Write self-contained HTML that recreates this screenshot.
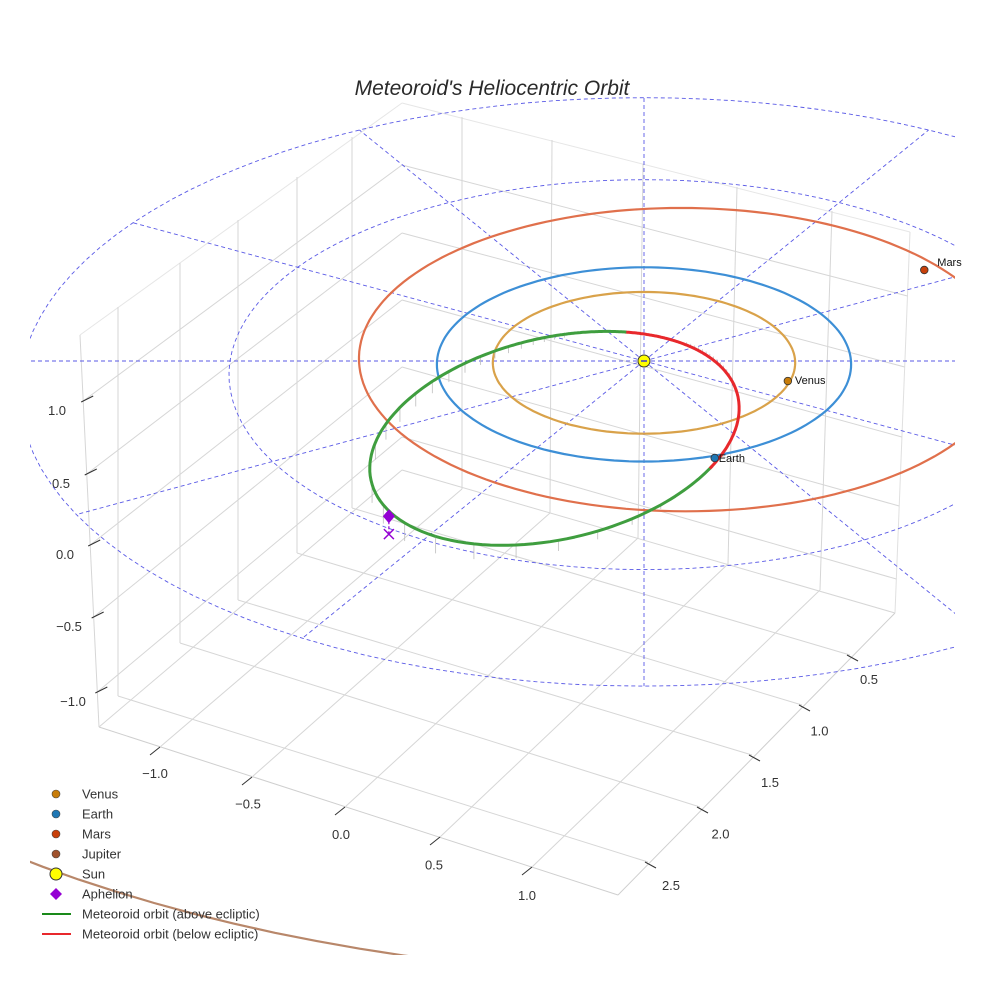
<!DOCTYPE html>
<html><head><meta charset="utf-8">
<style>
html,body{margin:0;padding:0;background:#fff;}
svg{display:block;font-family:"Liberation Sans",Arial,sans-serif;}
</style></head>
<body>
<svg id="chart" width="984" height="984" viewBox="0 0 984 984" xmlns="http://www.w3.org/2000/svg">
<defs><clipPath id="sceneClip"><rect x="30" y="0" width="925" height="955"/></clipPath></defs>
<rect x="0" y="0" width="984" height="984" fill="#fff"/>
<text x="492" y="95" text-anchor="middle" font-size="21" font-style="italic" fill="#2a2a2a">Meteoroid's Heliocentric Orbit</text>
<g id="grid" stroke="#d6d6d6" stroke-width="1" fill="none"></g>
<g id="ticks"></g>
<g id="scene" clip-path="url(#sceneClip)"></g>
<g id="labels"></g>
<g id="legend"></g>
</svg>
<script>
// ---- data ----
const planetNames = ["Venus", "Earth", "Mars"];
const planetX = [0.69, 0.33, 1.40];
const planetY = [-0.205, -0.966, 0.97];
const planetColors = ["#c87d0a", "#1f77b4", "#c8400a"];
const orbitNames = ["Venus", "Earth", "Mars", "Jupiter"];
const orbitRadius = [0.73, 1.0, 1.57, 5.2];
const orbitCenterX = [0.0, 0.0, 0.19, 0.3];
const orbitCenterY = [0.0, 0.0, 0.10, 0.0];
const orbitColors = ["#d9a24a", "#3d8fd6", "#e0704c", "#b8876a"];
const ringRadii = [1, 2, 3];
const spokeAngles = [0, 30, 60, 90, 120, 150, 180, 210, 240, 270, 300, 330];
const meteorA = [1.18];
const meteorE = [0.765];
const meteorIncl = [4.5];
const meteorNode = [107];
const meteorPeri = [-44];
const aphelionXYZ = [-1.16, -1.68, 0.12];
const xTickLabels = ["\u22121.0", "\u22120.5", "0.0", "0.5", "1.0"];
const yTickLabels = ["0.5", "1.0", "1.5", "2.0", "2.5"];
const zTickLabels = ["1.0", "0.5", "0.0", "\u22120.5", "\u22121.0"];

const NS = "http://www.w3.org/2000/svg";
function mk(tag, attrs, parent) {
  const e = document.createElementNS(NS, tag);
  for (const k in attrs) e.setAttribute(k, attrs[k]);
  parent.appendChild(e);
  return e;
}
function proj(X, Y, Z) {
  const s = 1 / (1 + 0.035 * Y);
  return [644 + 207 * X * s, 361 - 97 * Y * s - 140 * Z * s];
}
function pts(arr) { return arr.map(p => p[0].toFixed(1) + "," + p[1].toFixed(1)).join(" "); }

// ---- box grid ----
const grid = document.getElementById("grid");
const L = [99, 727], B = [402, 470], R = [895, 613], F = [618, 895];
const LT = [80, 335], BT = [402, 103], RT = [910, 232];
function line(a, b, parent, col) {
  const el = mk("line", {x1: a[0], y1: a[1], x2: b[0], y2: b[1]}, parent);
  if (col) el.setAttribute("stroke", col);
  
  
  return el;
}
line(L, B, grid); line(B, R, grid); line(L, F, grid, "#cfcfcf"); line(F, R, grid, "#cfcfcf");
line(LT, BT, grid, "#e6e6e6"); line(BT, RT, grid, "#e6e6e6");
line(LT, L, grid); line(RT, R, grid, "#e0e0e0");
const xFloorA = [[160,747],[252,777],[345,807],[440,837],[532,867]];
const xFloorB = [[462,489],[550,513],[638,538],[728,564],[820,590]];
const xWallTop = [[462,117],[552,140],[643,164],[737,187],[832,211]];
for (let i = 0; i < 5; i++) { line(xFloorA[i], xFloorB[i], grid); line(xFloorB[i], xWallTop[i], grid); }
const yFloorA = [[850,655],[802,705],[752,755],[700,807],[648,862]];
const yFloorB = [[352,508],[297,553],[238,600],[180,643],[118,696]];
const yWallTop = [[352,137],[297,177],[238,220],[180,263],[118,307]];
for (let i = 0; i < 5; i++) { line(yFloorA[i], yFloorB[i], grid); line(yFloorB[i], yWallTop[i], grid); }
const zCorner = [165, 233, 300, 367, 437];
const zLeft = [401, 474, 545, 617, 692];
const zRight = [296, 367, 437, 506, 579];
for (let i = 0; i < 5; i++) { line([402, zCorner[i]], [80 + (99-80)*(zLeft[i]-335)/392, zLeft[i]], grid); line([402, zCorner[i]], [910 - 15*(zRight[i]-232)/381, zRight[i]], grid); }

// ---- ticks ----
const ticks = document.getElementById("ticks");
function tickLbl(txt, x, y, name) {
  const t = mk("text", {x: x, y: y, "font-size": 13, fill: "#333", "text-anchor": "middle"}, ticks);
  t.textContent = txt;
  
  
}
for (let i = 0; i < 5; i++) {
  const a = xFloorA[i];
  line([a[0]-10, a[1]+8], [a[0], a[1]], ticks, "#333");
  tickLbl(xTickLabels[i], 155 + i*93, 778 + i*30.5, "x-tick-label");
  const b = yFloorA[i];
  line([b[0]+8, b[1]+6], [b[0]-3, b[1]], ticks, "#333");
  tickLbl(yTickLabels[i], 869 - i*49.5, 684 + i*51.5, "y-tick-label");
  const zy = zLeft[i], zx = 80 + 19*(zy-335)/392;
  line([zx-2, zy+1], [zx+10, zy-5], ticks, "#333");
  tickLbl(zTickLabels[i], 57 + i*4, zy + 14, "z-tick-label");
}

// ---- scene ----
const scene = document.getElementById("scene");
ringRadii.forEach(r => {
  const p = [];
  for (let a = 0; a <= 360; a += 3) { const t = a*Math.PI/180; p.push(proj(r*Math.cos(t), r*Math.sin(t), 0)); }
  const el = mk("polyline", {points: pts(p), fill: "none", stroke: "#5a5ae6", "stroke-width": 0.9, "stroke-dasharray": "4,3"}, scene);
  
  
});
spokeAngles.forEach(a => {
  const t = a*Math.PI/180, r = ringRadii[ringRadii.length-1];
  const p0 = proj(0,0,0), p1 = proj(r*Math.cos(t), r*Math.sin(t), 0);
  const el = mk("line", {x1: p0[0], y1: p0[1], x2: p1[0], y2: p1[1], stroke: "#5a5ae6", "stroke-width": 0.9, "stroke-dasharray": "4,3"}, scene);
  
  
});
for (let i = 0; i < orbitNames.length; i++) {
  const p = [];
  const big = orbitRadius[i] > 4;
  const a0 = big ? 200 : 0, a1 = big ? 300 : 360;
  for (let a = a0; a <= a1; a += 2) { const t = a*Math.PI/180; p.push(proj(orbitCenterX[i] + orbitRadius[i]*Math.cos(t), orbitCenterY[i] + orbitRadius[i]*Math.sin(t), 0)); }
  const el = mk("polyline", {points: pts(p), fill: "none", stroke: orbitColors[i], "stroke-width": 2.2}, scene);
  
  
}
const a = meteorA[0], e = meteorE[0], inc = meteorIncl[0]*Math.PI/180, Om = meteorNode[0]*Math.PI/180, w = meteorPeri[0]*Math.PI/180;
const pLat = a*(1-e*e);
function mpos(nuDeg) {
  const nu = nuDeg*Math.PI/180, r = pLat/(1+e*Math.cos(nu)), u = w + nu;
  return [r*(Math.cos(Om)*Math.cos(u) - Math.sin(Om)*Math.sin(u)*Math.cos(inc)),
          r*(Math.sin(Om)*Math.cos(u) + Math.cos(Om)*Math.sin(u)*Math.cos(inc)),
          r*Math.sin(u)*Math.sin(inc)];
}
const stems = mk("g", {stroke: "#bdbdbd", "stroke-width": 0.8}, scene);


for (let nu = -180; nu < 180; nu += 5) {
  const q = mpos(nu);
  if (Math.abs(q[2]) < 0.02) continue;
  const s1 = proj(q[0], q[1], q[2]), s0 = proj(q[0], q[1], 0);
  const el = mk("line", {x1: s1[0], y1: s1[1], x2: s0[0], y2: s0[1]}, stems);
  
  
}
let segs = [], cur = null, curSign = null;
for (let nu = -180; nu <= 180; nu += 1) {
  const q = mpos(nu), sg = q[2] >= 0;
  const sp = proj(q[0], q[1], q[2]);
  if (curSign === null || sg !== curSign) { if (cur) { cur.p.push(sp); segs.push(cur); } cur = {up: sg, p: cur ? [cur.p[cur.p.length-2], sp] : [sp]}; curSign = sg; }
  else cur.p.push(sp);
}
segs.push(cur);
segs.forEach(sg => {
  const el = mk("polyline", {points: pts(sg.p), fill: "none", stroke: sg.up ? "#3f9e3f" : "#e8282c", "stroke-width": 3, "stroke-linejoin": "round"}, scene);
  
  
});
const apS = proj(aphelionXYZ[0], aphelionXYZ[1], aphelionXYZ[2]), apG = proj(aphelionXYZ[0], aphelionXYZ[1], 0);
let el = mk("line", {x1: apS[0], y1: apS[1], x2: apG[0], y2: apG[1], stroke: "#9400d3", "stroke-width": 1.2, "stroke-dasharray": "3,2"}, scene);


el = mk("path", {d: `M${apG[0]-5},${apG[1]-5}L${apG[0]+5},${apG[1]+5}M${apG[0]+5},${apG[1]-5}L${apG[0]-5},${apG[1]+5}`, stroke: "#9400d3", "stroke-width": 1.5, fill: "none"}, scene);


el = mk("path", {d: `M${apS[0]},${apS[1]-7}L${apS[0]+6},${apS[1]}L${apS[0]},${apS[1]+7}L${apS[0]-6},${apS[1]}Z`, fill: "#9400d3"}, scene);


const labels = document.getElementById("labels");
const labelDx = [7, 4, 13], labelDy = [3, 4, -4];
for (let i = 0; i < planetNames.length; i++) {
  const s = proj(planetX[i], planetY[i], 0);
  const c = mk("circle", {cx: s[0], cy: s[1], r: 3.8, fill: planetColors[i], stroke: "#333", "stroke-width": 0.8}, scene);
  
  
  const t = mk("text", {x: s[0] + labelDx[i], y: s[1] + labelDy[i], "font-size": 11, fill: "#111"}, labels);
  t.textContent = planetNames[i];
  
  
}
const sunS = proj(0,0,0);
el = mk("circle", {cx: sunS[0], cy: sunS[1], r: 6, fill: "#ffff00", stroke: "#333", "stroke-width": 1}, scene);


el = mk("line", {x1: sunS[0]-3, y1: sunS[1], x2: sunS[0]+3, y2: sunS[1], stroke: "#3a3ad0", "stroke-width": 1.5}, scene);



// ---- legend ----
const lg = document.getElementById("legend");
const legItems = [
  ["Venus", "dot", "#c87d0a"], ["Earth", "dot", "#1f77b4"], ["Mars", "dot", "#c8400a"],
  ["Jupiter", "dot", "#a0522d"], ["Sun", "sun", "#ffff00"], ["Aphelion", "diamond", "#9400d3"],
  ["Meteoroid orbit (above ecliptic)", "line", "#1a8a1a"], ["Meteoroid orbit (below ecliptic)", "line", "#e8282c"]
];
legItems.forEach((it, i) => {
  const y = 794 + i*20;
  const g = mk("g", {}, lg);
  
  
  if (it[1] === "dot") mk("circle", {cx: 56, cy: y, r: 4, fill: it[2], stroke: "#444", "stroke-width": 0.6}, g);
  else if (it[1] === "sun") mk("circle", {cx: 56, cy: y, r: 6, fill: it[2], stroke: "#333", "stroke-width": 1}, g);
  else if (it[1] === "diamond") mk("path", {d: `M56,${y-6}L62,${y}L56,${y+6}L50,${y}Z`, fill: it[2]}, g);
  else mk("line", {x1: 42, y1: y, x2: 71, y2: y, stroke: it[2], "stroke-width": 2}, g);
  const t = mk("text", {x: 82, y: y + 4.5, "font-size": 13, fill: "#333"}, g);
  t.textContent = it[0];
});
</script>
</body></html>
